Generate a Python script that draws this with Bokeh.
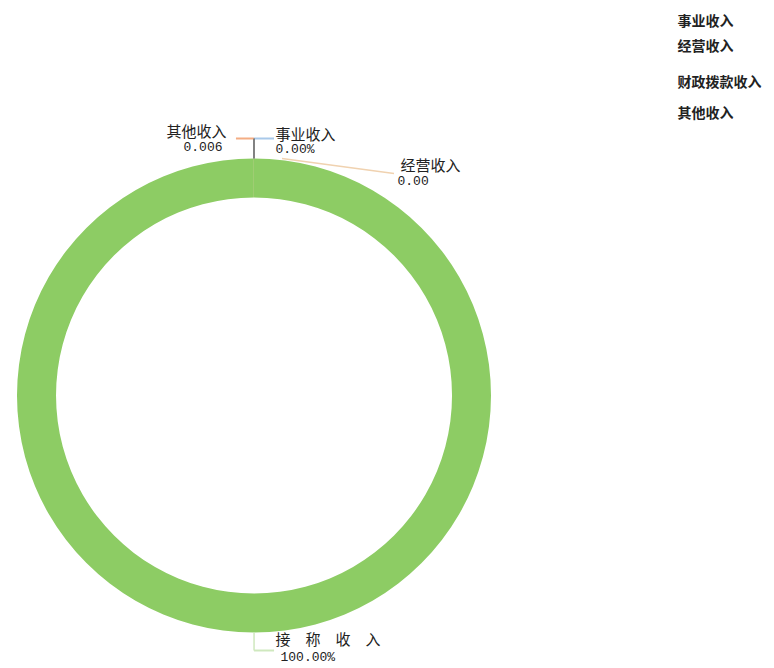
import math
from bokeh.plotting import figure
from bokeh.models import Range1d
from bokeh.core.properties import value
from bokeh.embed import file_html
from bokeh.resources import INLINE

# ---- data ----
categories = ["事业收入", "经营收入", "财政拨款收入", "其他收入"]
values = [0.0, 0.0, 100.0, 0.006]
label_names = ["事业收入", "经营收入", "接　称　收　入", "其他收入"]
label_values = ["0.00%", "0.00", "100.00%", "0.006"]
colors = ["#a9c9ea", "#f3cfa6", "#8dcc64", "#f4ad84"]
line_colors = ["#a9c9ea", "#f0d2b0", "#cfe8be", "#f4ad84"]

# ---- layout (picture pixel space; y flipped) ----
W, H = 774, 668
def Y(py):
    return H - py

cx, cy = 253.5, Y(395)
r_out, r_in = 237, 198

p = figure(width=W, height=H, output_backend="svg", toolbar_location=None,
           x_range=Range1d(0, W), y_range=Range1d(0, H), min_border=0)
p.axis.visible = False
p.grid.visible = False
p.outline_line_color = None
p.background_fill_color = "white"

total = sum(values)
starts, ends, mids = [], [], []
cum = 0.0
for v in values:
    a0 = math.pi / 2 - 2 * math.pi * cum / total
    cum += v
    a1 = math.pi / 2 - 2 * math.pi * cum / total
    starts.append(a0); ends.append(a1); mids.append((a0 + a1) / 2)

for i in range(len(values)):
    if values[i] > 0:
        p.annular_wedge(x=cx, y=cy, inner_radius=r_in, outer_radius=r_out,
                        start_angle=starts[i], end_angle=ends[i], direction="clock",
                        fill_color=colors[i], line_color=None)

anchors = [(cx + r_out * math.cos(m), cy + r_out * math.sin(m)) for m in mids]

# label layout: (elbow dx, elbow dy, end dx, end dy, name x, value x, name y, value y, align)
label_layout = [
    (0, 20, 20, 20, 275, 275, 133, 149, "left"),    # 事业收入
    (28, 0, 140, -15, 400, 397, 164, 180, "left"),  # 经营收入
    (0, -18, 20, -18, 275, 280, 638, 657, "left"),  # 财政拨款收入
    (0, 20, -18, 20, 226, 222, 130, 146, "right"),  # 其他收入
]

for i, (ax, ay) in enumerate(anchors):
    ex_dx, ex_dy, e_dx, e_dy, nx, vx, ny, vy, align = label_layout[i]
    if i == 1:
        p.line([ax + ex_dx, ax + e_dx], [ay + ex_dy, ay + e_dy], line_color=line_colors[i], line_width=1.5)
    else:
        p.line([ax + ex_dx, ax + e_dx], [ay + ex_dy, ay + e_dy], line_color=line_colors[i], line_width=2)
        stem_color = "#7a7a7a" if i != 2 else line_colors[i]
        p.line([ax, ax + ex_dx], [ay, ay + ex_dy], line_color=stem_color, line_width=1.5)

    p.text(x=[nx], y=[Y(ny)], text=[label_names[i]], text_font=value("Noto Sans CJK SC"),
           text_font_size="15px", text_color="#222222", text_align=align, text_baseline="middle")
    p.text(x=[vx], y=[Y(vy)], text=[label_values[i]], text_font=value("Liberation Mono"),
           text_font_size="13px", text_color="#222222", text_align=align, text_baseline="middle")

legend_y = [19, 44, 80, 111]
p.text(x=[677] * len(categories), y=[Y(v) for v in legend_y], text=categories,
       text_font=value("Noto Sans CJK SC"), text_font_size="14px", text_font_style="bold",
       text_color="#222222", text_align="left", text_baseline="middle")

open("out.html", "w").write(file_html(p, INLINE))
